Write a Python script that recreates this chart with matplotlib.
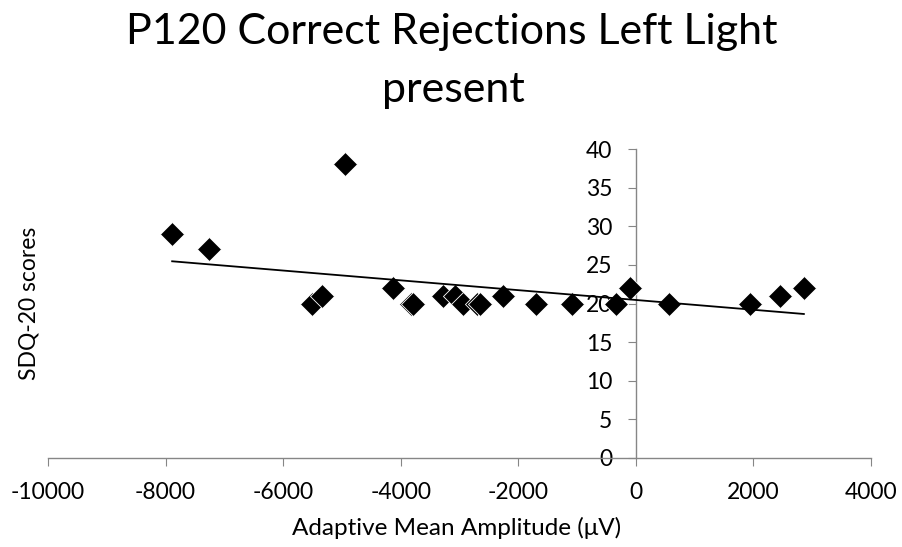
import matplotlib
matplotlib.use("Agg")
import matplotlib.pyplot as plt
import numpy as np

plt.rcParams['font.family'] = ['Lato', 'DejaVu Sans']
plt.rcParams['axes.unicode_minus'] = False

title_line1 = "P120 Correct Rejections Left Light"
title_line2 = "present"
xlabel = "Adaptive Mean Amplitude (\u03bcV)"
ylabel = "SDQ-20 scores"

amplitude = [-7888, -7263, -4955, -5506, -5336, -4138, -3830, -3788, -3288, -3074,
             -2938, -2700, -2650, -2267, -1700, -1089, -340, -102, 566, 1939, 2449, 2858]
sdq = [29, 27, 38, 20, 21, 22, 20, 20, 21, 21,
       20, 20, 20, 21, 20, 20, 20, 22, 20, 20, 21, 22]

x_ticks = [-10000, -8000, -6000, -4000, -2000, 0, 2000, 4000]
y_ticks = [0, 5, 10, 15, 20, 25, 30, 35, 40]

W, H = 903, 547
fig = plt.figure(figsize=(W / 100, H / 100), dpi=100)
ax = fig.add_axes([48 / W, (H - 458) / H, (871 - 48) / W, (458 - 149) / H])

x = np.array(amplitude, dtype=float)
y = np.array(sdq, dtype=float)
ax.scatter(x, y, marker='D', s=150, c='black', edgecolors='white', linewidths=0.6, zorder=3)

slope, intercept = np.polyfit(x, y, 1)
xl = np.array([x.min(), x.max()])
ax.plot(xl, slope * xl + intercept, color='black', lw=1.3, zorder=4)

ax.set_xlim(-10000, 4000)
ax.set_ylim(0, 40)
ax.set_xticks(x_ticks)
ax.set_yticks(y_ticks)

grey = '#868686'
for s in ['top', 'right']:
    ax.spines[s].set_visible(False)
ax.spines['left'].set_position(('data', 0))
ax.spines['left'].set_color(grey)
ax.spines['bottom'].set_color(grey)
ax.spines['left'].set_linewidth(1.0)
ax.spines['bottom'].set_linewidth(1.0)
ax.tick_params(axis='x', direction='out', length=6, color=grey, labelsize=16.5, pad=11)
ax.tick_params(axis='y', direction='out', length=6, color=grey, labelsize=16.5, pad=11)

fig.text(29 / W, 1 - 303 / H, ylabel, rotation=90, ha='center', va='center', fontsize=16.5)
fig.text(457 / W, 1 - 528 / H, xlabel, ha='center', va='center', fontsize=17.5)
fig.text(452 / W, 1 - 44 / H, title_line1, ha='center', va='baseline', fontsize=31)
fig.text(453 / W, 1 - 102 / H, title_line2, ha='center', va='baseline', fontsize=31)

fig.savefig('out.png', dpi=100)
